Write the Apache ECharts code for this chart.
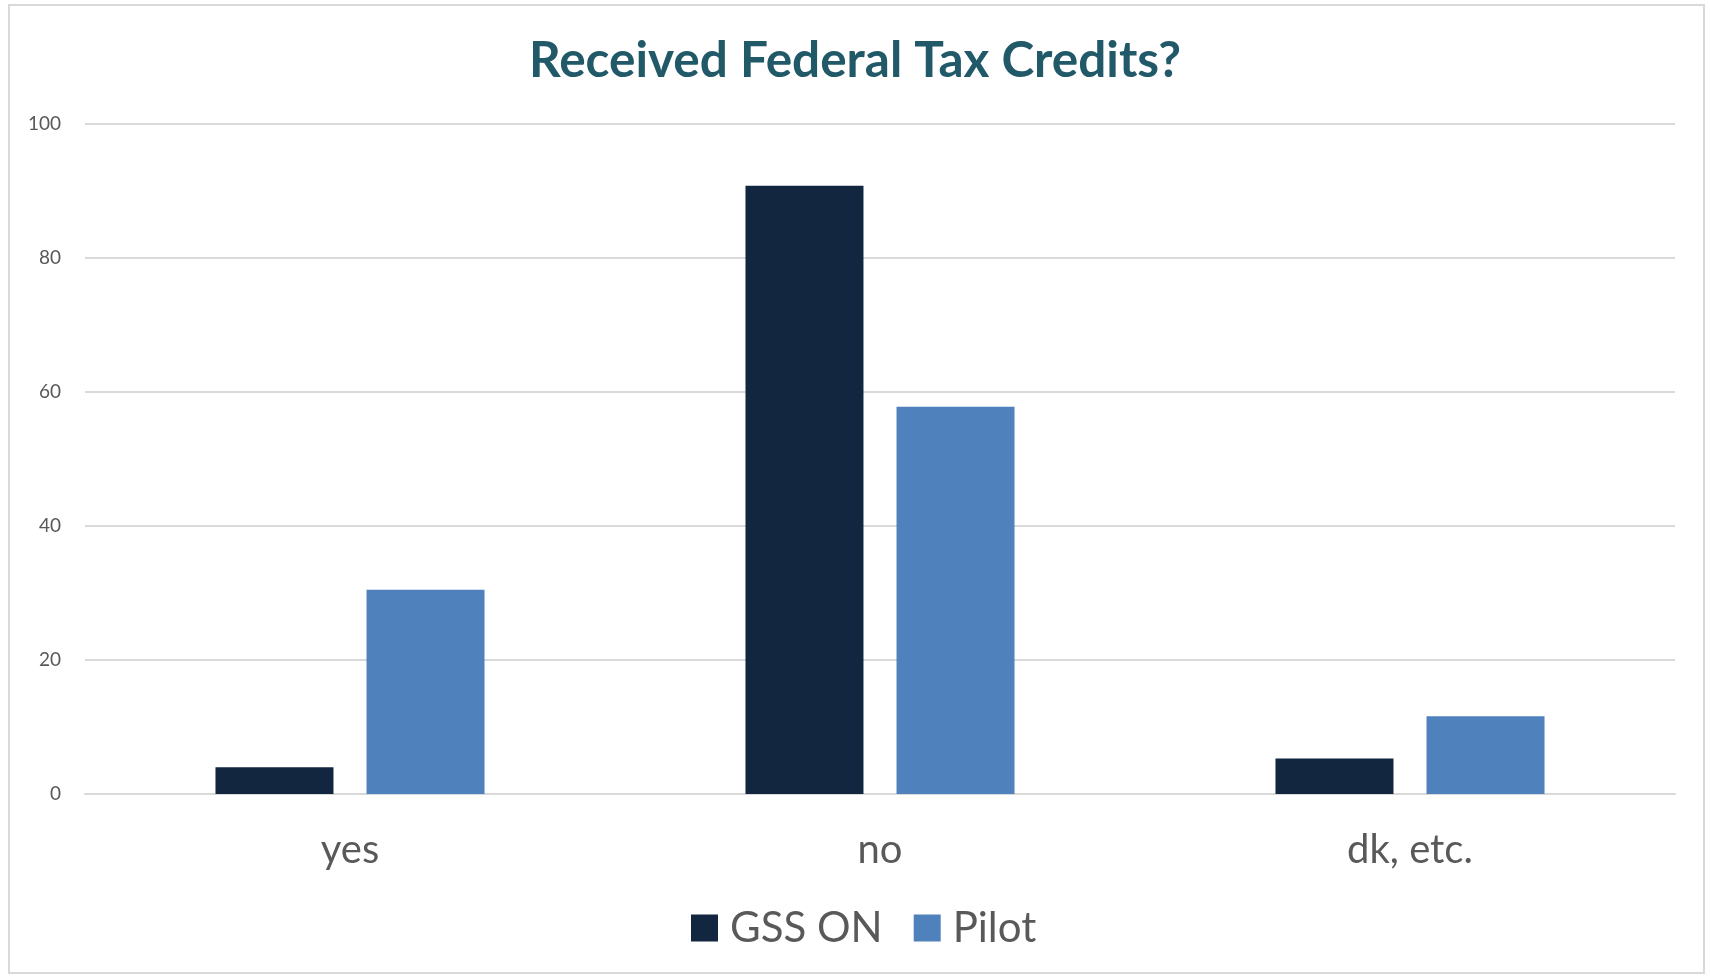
<!DOCTYPE html>
<html>
<head>
<meta charset="utf-8">
<script src="https://cdn.jsdelivr.net/npm/echarts@6/dist/echarts.min.js"></script>
<style>
html,body{margin:0;padding:0;background:#fff;}
#chart{width:1710px;height:976px;}
</style>
</head>
<body>
<div id="chart"></div>
<script>
const categories = ['yes', 'no', 'dk, etc.'];
const gssOn = [4.0, 90.8, 5.3];
const pilot = [30.5, 57.8, 11.6];
const seriesNames = ['GSS ON', 'Pilot'];
const yTicks = {min: 0, max: 100, interval: 20};

const chart = echarts.init(document.getElementById('chart'));
const font = 'Lato, "Open Sans", sans-serif';
chart.setOption({
  animation: false,
  backgroundColor: '#ffffff',
  graphic: [{
    type: 'rect',
    shape: {x: 9, y: 5, width: 1695, height: 968},
    style: {fill: 'none', stroke: '#d9d9d9', lineWidth: 2},
    silent: true
  }],
  title: {
    text: 'Received Federal Tax Credits?',
    left: 'center',
    top: 31,
    textStyle: {fontFamily: font, fontWeight: 'bold', fontSize: 49.5, color: '#215968'}
  },
  legend: {
    data: seriesNames,
    left: 686,
    top: 902,
    itemWidth: 27,
    itemHeight: 27,
    itemGap: 31,
    icon: 'rect',
    textStyle: {fontFamily: font, fontSize: 42, color: '#595959', padding: [0, 0, 0, 7]}
  },
  grid: {left: 85, right: 35, top: 124, bottom: 182, containLabel: false},
  xAxis: {
    type: 'category',
    data: categories,
    axisLine: {lineStyle: {color: '#d9d9d9', width: 2}},
    axisTick: {show: false},
    axisLabel: {fontFamily: font, fontSize: 40, color: '#595959', margin: 36}
  },
  yAxis: {
    type: 'value',
    min: yTicks.min,
    max: yTicks.max,
    interval: yTicks.interval,
    axisLine: {show: false},
    axisTick: {show: false},
    axisLabel: {fontFamily: font, fontSize: 19, color: '#595959', margin: 24},
    splitLine: {lineStyle: {color: '#d9d9d9', width: 2}}
  },
  series: [
    {name: seriesNames[0], type: 'bar', data: gssOn, barWidth: 118, barGap: '28%',
     itemStyle: {color: '#12263F'}},
    {name: seriesNames[1], type: 'bar', data: pilot, barWidth: 118, barGap: '28%',
     itemStyle: {color: '#4F81BD'}}
  ]
});
</script>
</body>
</html>
